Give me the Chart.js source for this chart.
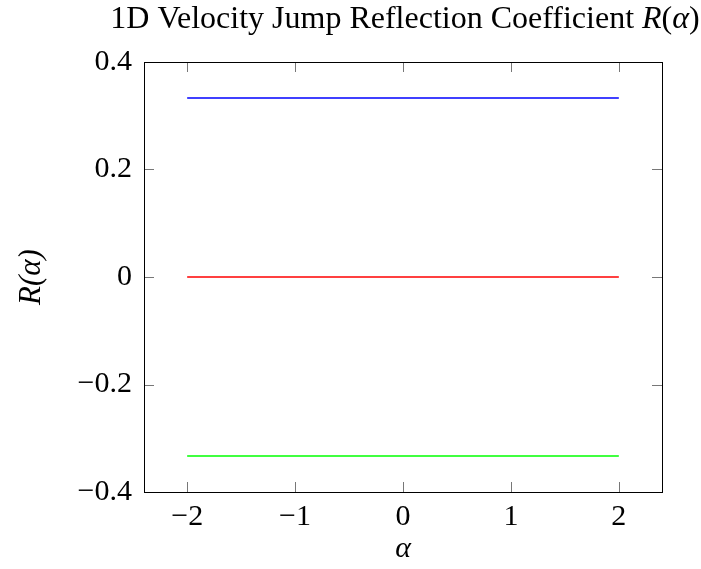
<!DOCTYPE html>
<html>
<head>
<meta charset="utf-8">
<script src="https://cdn.jsdelivr.net/npm/chart.js@4"></script>
<style>
    html, body { margin: 0; padding: 0; background: #fff; }
    canvas { display: block; }
</style>
</head>
<body>
<canvas id="chart" width="701" height="569"></canvas>
<script>
    // Data
    const alphaValues = [-2, -1, 0, 1, 2];
    const upperValues = [0.333, 0.333, 0.333, 0.333, 0.333];
    const middleValues = [0, 0, 0, 0, 0];
    const lowerValues = [-0.333, -0.333, -0.333, -0.333, -0.333];

    const xTicks = [-2, -1, 0, 1, 2];
    const yTicks = [-0.4, -0.2, 0, 0.2, 0.4];

    // title pieces: [text, italic]
    const titleParts = [
        ['1D Velocity Jump Reflection Coefficient ', false],
        ['R', true], ['(', false], ['\u03b1', true], [')', false]
    ];

    const serif = "'Liberation Serif', 'DejaVu Serif', serif";

    function points(values) {
        return alphaValues.map((a, i) => ({ x: a, y: values[i] }));
    }

    function fmt(v, digits) {
        const s = v === 0 ? '0' : v.toFixed(digits);
        return s.replace('-', '\u2212');
    }

    // pgfplots-style frame with inward ticks on all four sides, plus the title
    const frameTicks = {
        id: 'frameTicks',
        afterDatasetsDraw(chart) {
            const { ctx, chartArea: a, scales } = chart;
            const len = 10;
            ctx.save();
            ctx.strokeStyle = '#777';
            ctx.lineWidth = 1;
            ctx.beginPath();
            xTicks.forEach(v => {
                const px = Math.round(scales.x.getPixelForValue(v)) + 0.5;
                ctx.moveTo(px, a.bottom); ctx.lineTo(px, a.bottom - len);
                ctx.moveTo(px, a.top); ctx.lineTo(px, a.top + len);
            });
            yTicks.forEach(v => {
                const py = Math.round(scales.y.getPixelForValue(v)) + 0.5;
                ctx.moveTo(a.left, py); ctx.lineTo(a.left + len, py);
                ctx.moveTo(a.right, py); ctx.lineTo(a.right - len, py);
            });
            ctx.stroke();
            ctx.strokeStyle = '#000';
            ctx.strokeRect(Math.round(a.left) + 0.5, Math.round(a.top) + 0.5,
                Math.round(a.right - a.left), Math.round(a.bottom - a.top));

            // title with italic math part
            const size = 32;
            const fontFor = it => (it ? 'italic ' : '') + size + 'px ' + serif;
            let total = 0;
            titleParts.forEach(([t, it]) => { ctx.font = fontFor(it); total += ctx.measureText(t).width; });
            let x = (a.left + a.right) / 2 + 2 - total / 2;
            ctx.fillStyle = '#000';
            ctx.textBaseline = 'alphabetic';
            ctx.textAlign = 'left';
            titleParts.forEach(([t, it]) => {
                ctx.font = fontFor(it);
                ctx.fillText(t, x, 28);
                x += ctx.measureText(t).width;
            });
            ctx.restore();
        }
    };

    new Chart(document.getElementById('chart'), {
        type: 'line',
        data: {
            datasets: [
                { label: 'upper', data: points(upperValues), borderColor: '#0000ff' },
                { label: 'middle', data: points(middleValues), borderColor: '#ff0000' },
                { label: 'lower', data: points(lowerValues), borderColor: '#00ff00' }
            ]
        },
        options: {
            responsive: false,
            animation: false,
            layout: { padding: { left: 0, right: 39, top: 62, bottom: 0 } },
            elements: {
                point: { radius: 0 },
                line: { borderWidth: 1.3, tension: 0 }
            },
            plugins: {
                legend: { display: false },
                tooltip: { enabled: false },
                title: { display: false }
            },
            scales: {
                x: {
                    type: 'linear',
                    min: -2.4,
                    max: 2.4,
                    afterBuildTicks: s => { s.ticks = xTicks.map(v => ({ value: v })); },
                    afterFit: s => { s.height = 77; },
                    grid: { display: false, drawTicks: false },
                    border: { display: false },
                    ticks: {
                        padding: 7,
                        color: '#000',
                        font: { family: serif, size: 30 },
                        callback: v => fmt(v, 0)
                    },
                    title: {
                        display: true,
                        text: '\u03b1',
                        color: '#000',
                        font: { family: serif, size: 30, style: 'italic' },
                        padding: { top: 0, bottom: 2 }
                    }
                },
                y: {
                    type: 'linear',
                    min: -0.4,
                    max: 0.4,
                    afterBuildTicks: s => { s.ticks = yTicks.map(v => ({ value: v })); },
                    afterFit: s => { s.width = 144; },
                    grid: { display: false, drawTicks: false },
                    border: { display: false },
                    ticks: {
                        padding: 12,
                        color: '#000',
                        font: { family: serif, size: 30 },
                        callback: v => fmt(v, 1)
                    },
                    title: {
                        display: true,
                        text: 'R(\u03b1)',
                        color: '#000',
                        font: { family: serif, size: 31, style: 'italic' },
                        padding: { top: 13, bottom: 0 }
                    }
                }
            }
        },
        plugins: [frameTicks]
    });
</script>
</body>
</html>
